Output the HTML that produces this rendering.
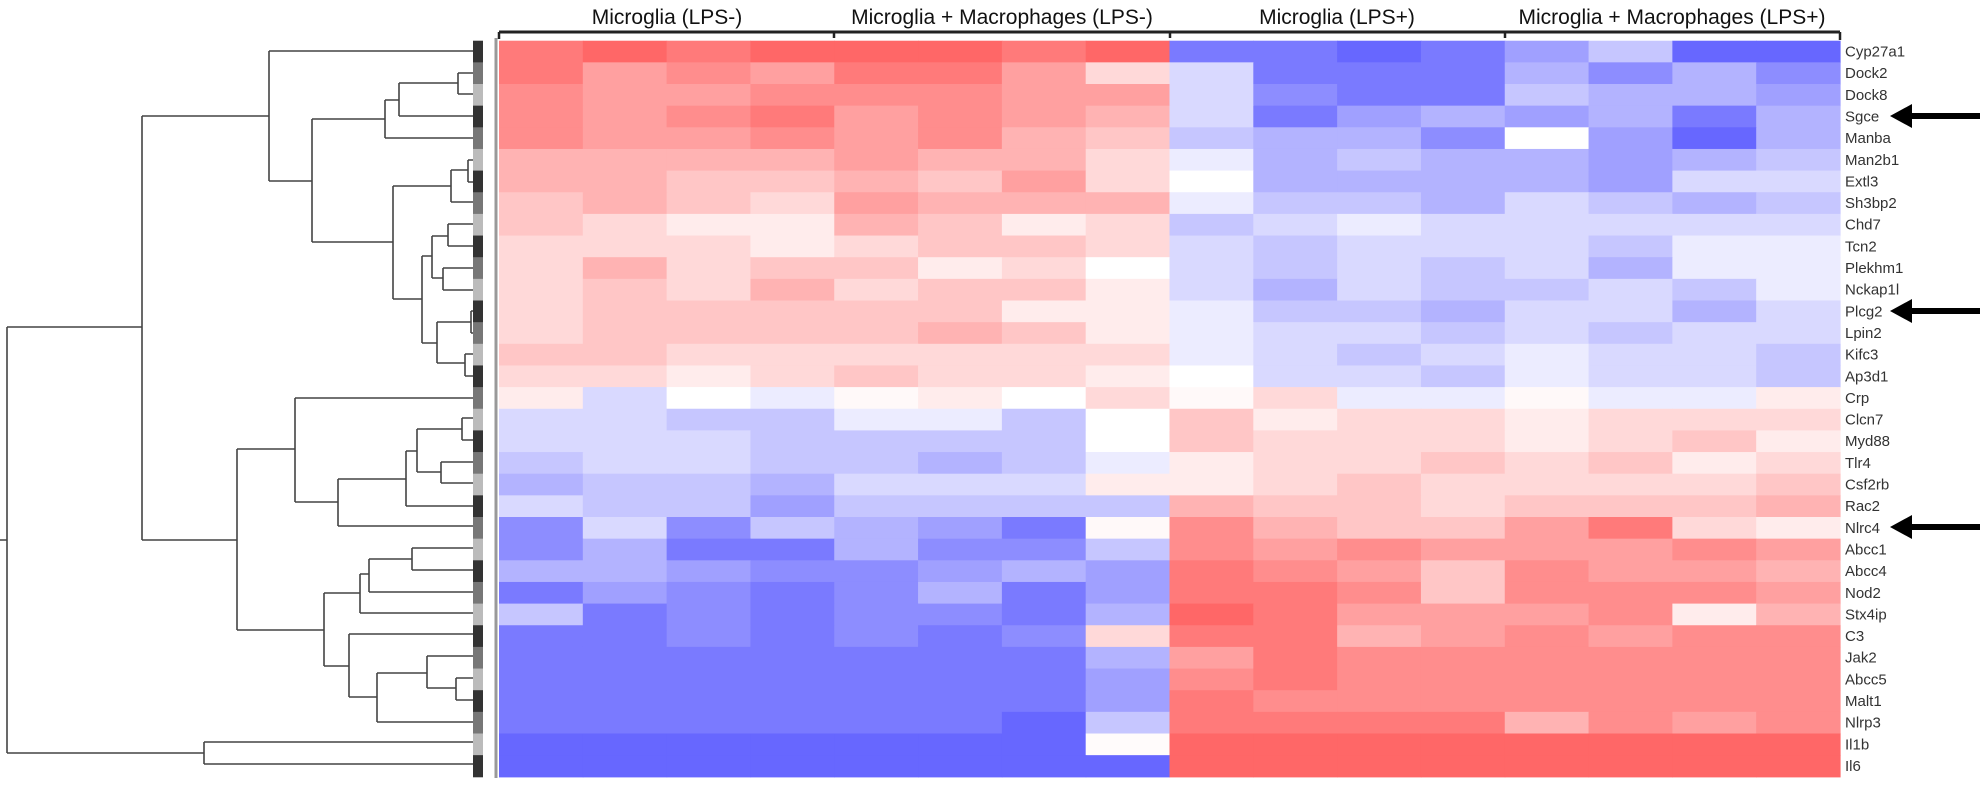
<!DOCTYPE html>
<html><head><meta charset="utf-8">
<style>
html,body{margin:0;padding:0;background:#fff;}
svg{display:block;}
text{font-family:"Liberation Sans",Arial,sans-serif;}
</style></head>
<body>
<svg id="s" width="1982" height="786" viewBox="0 0 1982 786" xmlns="http://www.w3.org/2000/svg">
<rect width="1982" height="786" fill="#fff"/>
<g id="hm"></g>
<g id="bar"></g>
<line x1="496" y1="38" x2="496" y2="778" stroke="#999" stroke-width="3"/>
<line x1="499" y1="32" x2="1840" y2="32" stroke="#222" stroke-width="3"/>
<g stroke="#222" stroke-width="2.5">
<line x1="499" y1="32" x2="499" y2="39"/><line x1="834" y1="32" x2="834" y2="38"/>
<line x1="1170" y1="32" x2="1170" y2="38"/><line x1="1505" y1="32" x2="1505" y2="38"/>
<line x1="1840" y1="32" x2="1840" y2="40"/>
</g>
<g font-size="21" fill="#111" text-anchor="middle">
<text x="667" y="24">Microglia (LPS-)</text>
<text x="1002" y="24">Microglia + Macrophages (LPS-)</text>
<text x="1337" y="24">Microglia (LPS+)</text>
<text x="1672" y="24">Microglia + Macrophages  (LPS+)</text>
</g>
<g id="labels" font-size="15" fill="#333"></g>
<g fill="#000">
<polygon points="1890,116 1912,104 1912,113 1980,113 1980,119 1912,119 1912,128"/>
<polygon points="1890,311 1912,299 1912,308 1980,308 1980,314 1912,314 1912,323"/>
<polygon points="1890,527 1912,515 1912,524 1980,524 1980,530 1912,530 1912,539"/>
</g>
<g stroke="#444" stroke-width="1.6" fill="none">
<path d="M0,540 H7 M7,327 V753 M7,327 H142 M7,753 H204"/>
<path d="M204,742 V764 M204,742 H473 M204,764 H473"/>
<path d="M142,116 V540 M142,116 H269 M142,540 H237"/>
<path d="M269,51 V181 M269,51 H473 M269,181 H312"/>
<path d="M312,119 V242 M312,119 H385 M312,242 H393"/>
<path d="M385,100 V138 M385,138 H473 M385,100 H399"/>
<path d="M399,83 V116 M399,116 H473 M399,83 H458 M458,73 V94 M458,73 H473 M458,94 H473"/>
<path d="M393,186 V299 M393,186 H451 M393,299 H422"/>
<path d="M451,170 V202 M451,202 H473 M451,170 H468 M468,160 V182 M468,160 H473 M468,182 H473"/>
<path d="M422,256 V343 M422,256 H432 M422,343 H437"/>
<path d="M432,236 V278 M432,236 H448 M432,278 H443"/>
<path d="M448,224 V246 M448,224 H473 M448,246 H473 M443,268 V290 M443,268 H473 M443,290 H473"/>
<path d="M437,322 V363 M437,322 H471 M437,363 H465"/>
<path d="M471,311 V333 M471,311 H473 M471,333 H473 M465,354 V376 M465,354 H473 M465,376 H473"/>
<path d="M237,449 V630 M237,449 H295 M237,630 H324"/>
<path d="M295,398 V502 M295,398 H473 M295,502 H338"/>
<path d="M338,479 V526 M338,526 H473 M338,479 H406"/>
<path d="M406,451 V506 M406,506 H473 M406,451 H417"/>
<path d="M417,429 V472 M417,429 H462 M417,472 H441"/>
<path d="M462,418 V440 M462,418 H473 M462,440 H473 M441,462 V483 M441,462 H473 M441,483 H473"/>
<path d="M324,593 V666 M324,593 H360 M324,666 H349"/>
<path d="M360,574 V613 M360,613 H473 M360,574 H369"/>
<path d="M369,559 V592 M369,592 H473 M369,559 H412"/>
<path d="M412,548 V570 M412,548 H473 M412,570 H473"/>
<path d="M349,634 V697 M349,634 H473 M349,697 H377"/>
<path d="M377,673 V722 M377,722 H473 M377,673 H427"/>
<path d="M427,656 V688 M427,656 H473 M427,688 H456"/>
<path d="M456,678 V700 M456,678 H473 M456,700 H473"/>
</g>
</svg>
<script>
var names=["Cyp27a1","Dock2","Dock8","Sgce","Manba","Man2b1","Extl3","Sh3bp2","Chd7","Tcn2","Plekhm1","Nckap1l","Plcg2","Lpin2","Kifc3","Ap3d1","Crp","Clcn7","Myd88","Tlr4","Csf2rb","Rac2","Nlrc4","Abcc1","Abcc4","Nod2","Stx4ip","C3","Jak2","Abcc5","Malt1","Nlrp3","Il1b","Il6"];
var D=[
[7,8,7,8,8,8,7,8,-7,-7,-8,-7,-5,-3,-8,-8],
[7,5,6,5,7,7,5,2,-2,-7,-7,-7,-4,-6,-4,-6],
[6,5,5,6,6,6,5,5,-2,-6,-7,-7,-3,-4,-4,-5],
[6,5,6,7,5,6,5,4,-2,-7,-5,-4,-5,-4,-7,-4],
[6,5,5,6,5,6,4,3,-3,-4,-4,-6,0,-5,-8,-4],
[4,4,4,4,5,4,4,2,-1,-4,-3,-4,-4,-5,-4,-3],
[4,4,3,3,4,3,5,2,0,-4,-4,-4,-4,-5,-2,-2],
[3,4,3,2,5,4,4,4,-1,-3,-3,-4,-2,-3,-4,-3],
[3,2,1,1,4,3,1,2,-3,-2,-1,-2,-2,-2,-2,-2],
[2,2,2,1,2,3,3,2,-2,-3,-2,-2,-2,-3,-1,-1],
[2,4,2,3,3,1,2,0,-2,-3,-2,-3,-2,-4,-1,-1],
[2,3,2,4,2,3,3,1,-2,-4,-2,-3,-3,-2,-3,-1],
[2,3,3,3,3,3,1,1,-1,-3,-3,-4,-2,-2,-4,-2],
[2,3,3,3,3,4,3,1,-1,-2,-2,-3,-2,-3,-2,-2],
[3,3,2,2,2,2,2,2,-1,-2,-3,-2,-1,-2,-2,-3],
[2,2,1,2,3,2,2,1,0,-2,-2,-3,-1,-2,-2,-3],
[1,-2,0,-1,0.3,1,0,2,0.3,2,-1,-1,0.3,-1,-1,1],
[-2,-2,-3,-3,-1,-1,-3,0,3,1,2,2,1,2,2,2],
[-2,-2,-2,-3,-3,-3,-3,0,3,2,2,2,1,2,3,1],
[-3,-2,-2,-3,-3,-4,-3,-1,1,2,2,3,2,3,1,2],
[-4,-3,-3,-4,-2,-2,-2,1,1,2,3,2,2,2,2,3],
[-2,-3,-3,-5,-3,-3,-3,-3,4,3,3,2,3,3,3,4],
[-6,-2,-6,-3,-4,-5,-7,0.3,6,4,3,3,5,7,2,1],
[-6,-4,-7,-7,-4,-6,-6,-3,6,5,6,5,5,5,6,5],
[-4,-4,-5,-6,-6,-5,-4,-5,7,6,5,3,6,5,5,4],
[-7,-5,-6,-7,-6,-4,-7,-5,7,7,6,3,6,6,6,5],
[-3,-7,-6,-7,-6,-6,-7,-4,8,7,5,5,5,6,1,4],
[-7,-7,-6,-7,-6,-7,-6,2,7,7,4,5,6,5,6,6],
[-7,-7,-7,-7,-7,-7,-7,-4,5,7,6,6,6,6,6,6],
[-7,-7,-7,-7,-7,-7,-7,-5,6,7,6,6,6,6,6,6],
[-7,-7,-7,-7,-7,-7,-7,-5,7,6,6,6,6,6,6,6],
[-7,-7,-7,-7,-7,-7,-8,-3,7,7,7,7,4,6,5,6],
[-8,-8,-8,-8,-8,-8,-8,0.2,8,8,8,8,8,8,8,8],
[-8,-8,-8,-8,-8,-8,-8,-8,8,8,8,8,8,8,8,8]];
var NS="http://www.w3.org/2000/svg";
function col(v){var k=Math.max(0,Math.round(255-19*Math.abs(v)));return v>=0?"rgb(255,"+k+","+k+")":"rgb("+k+","+k+",255)";}
var hm=document.getElementById("hm"),bar=document.getElementById("bar"),lb=document.getElementById("labels");
var x0=499,cw=(1840-499)/16,y0=40.7,rh=21.65;
var shades=["#333","#777","#bbb"];
for(var r=0;r<34;r++){
 for(var c=0;c<16;c++){
  var e=document.createElementNS(NS,"rect");
  e.setAttribute("x",(x0+c*cw).toFixed(2));e.setAttribute("y",(y0+r*rh).toFixed(2));
  e.setAttribute("width",(cw+0.6).toFixed(2));e.setAttribute("height",(rh+0.6).toFixed(2));
  e.setAttribute("fill",col(D[r][c]));hm.appendChild(e);
 }
 var b=document.createElementNS(NS,"rect");
 b.setAttribute("x",473);b.setAttribute("y",(y0+r*rh).toFixed(2));b.setAttribute("width",10);b.setAttribute("height",(rh+0.5).toFixed(2));
 b.setAttribute("fill",shades[r%3]);bar.appendChild(b);
 var t=document.createElementNS(NS,"text");
 t.setAttribute("x",1845);t.setAttribute("y",(y0+r*rh+rh/2+5).toFixed(2));
 t.textContent=names[r];lb.appendChild(t);
}
</script>
</body></html>
